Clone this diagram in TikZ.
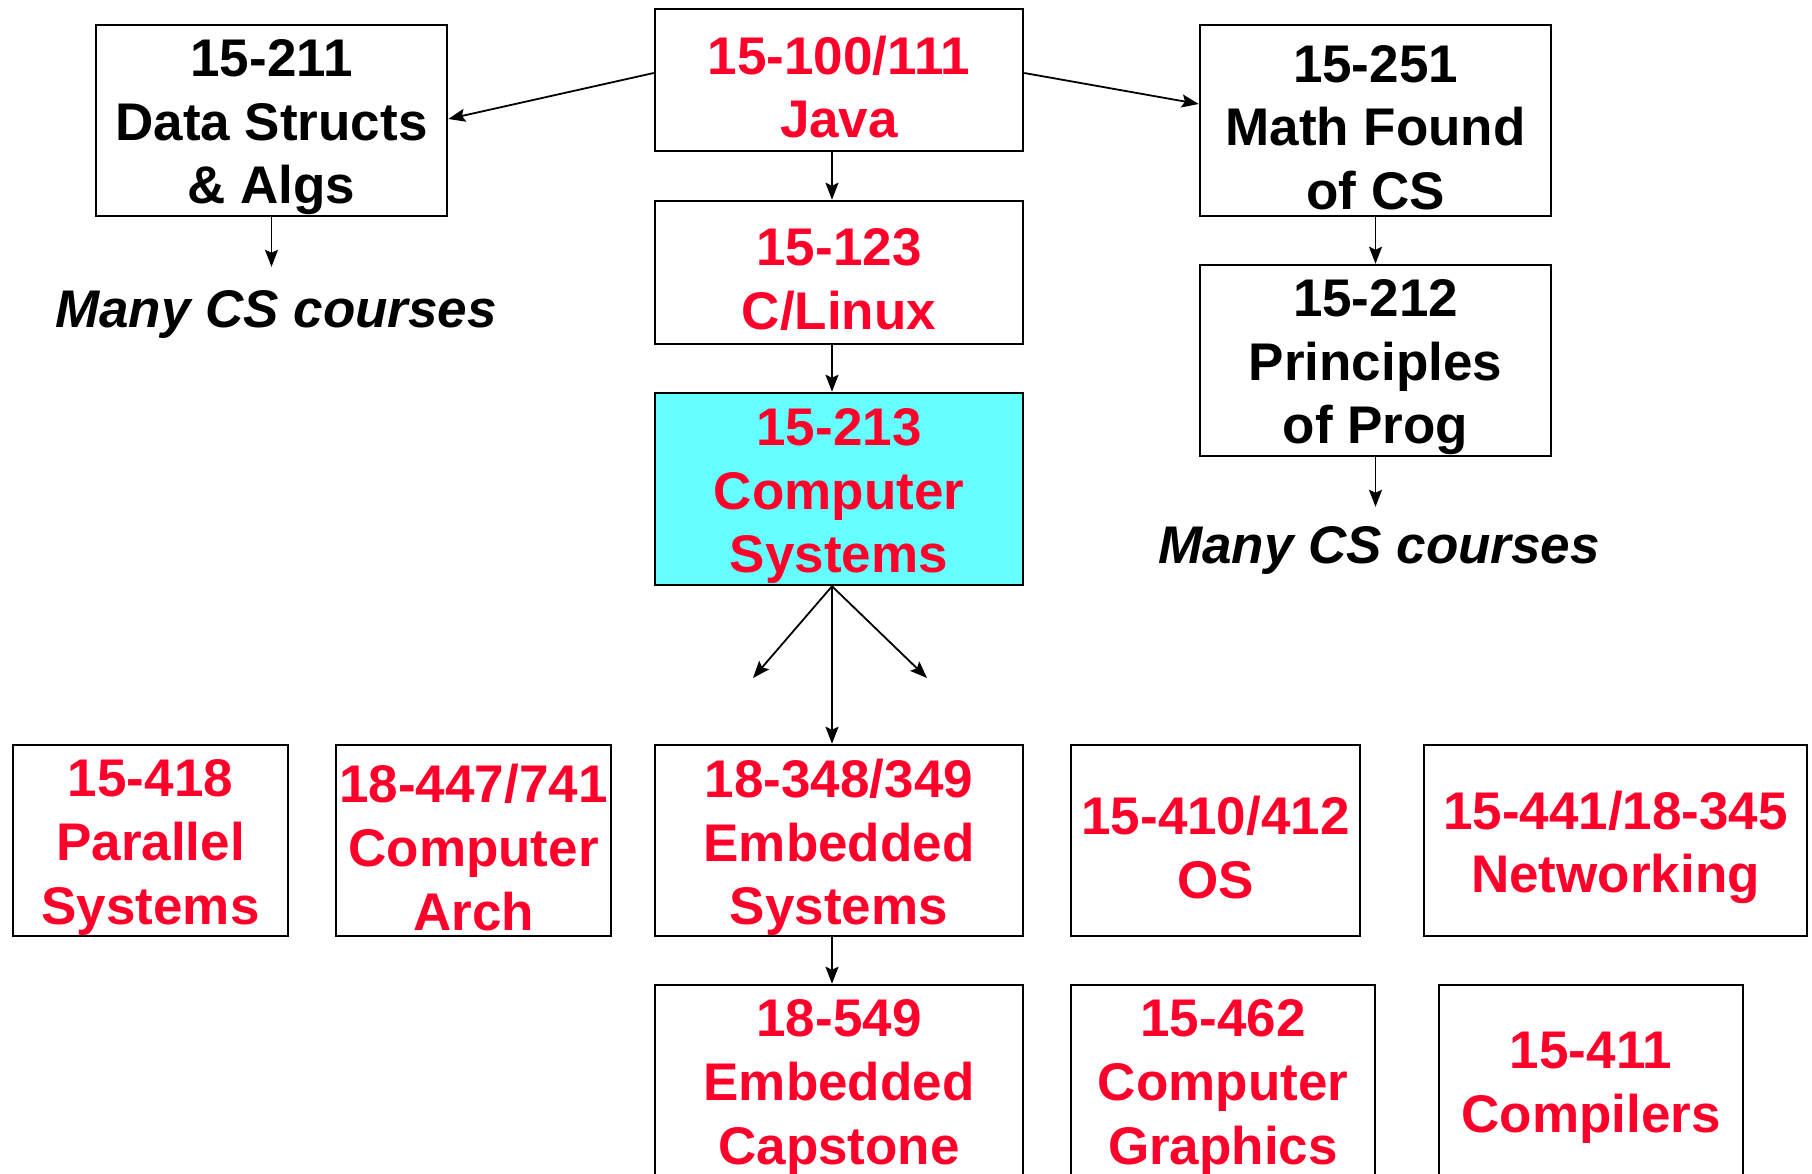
\documentclass[tikz,border=0pt]{standalone}
\usepackage{fontspec}
\setmainfont{Liberation Sans}
\usetikzlibrary{arrows.meta}
\definecolor{cred}{RGB}{255,0,43}
\definecolor{ccyan}{RGB}{102,255,255}
\newcommand{\cbox}[6]{%
  \node[box, #2, minimum width=#4, minimum height=#5] (#1) at (#3) {};
  \node[txt, #2] (#1-t) at ([yshift=-7pt]#1.center) {#6};}
\begin{document}
\begin{tikzpicture}[x=1pt,y=-1pt,
  box/.style={draw=black, line width=2.5pt, inner sep=0pt},
  txt/.style={draw=none, fill=none, align=center, inner sep=0pt,
    font=\fontsize{53}{63.6}\selectfont\bfseries},
  red/.style={text=cred},
  blk/.style={text=black},
  cy/.style={fill=ccyan},
  arr/.style={line width=1.8pt, -{Stealth[length=17pt,width=13pt,inset=3pt]}},
  lbl/.style={font=\fontsize{53}{63.6}\selectfont\bfseries\itshape, inner sep=0pt}]
\useasboundingbox (0,0) rectangle (1812,1174);
% top
\cbox{b211}{blk}{271.5,120.5}{351pt}{191pt}{15-211\\Data Structs\\\& Algs}
\cbox{b100}{red}{839,80}{368pt}{142pt}{15-100/111\\Java}
\cbox{b251}{blk}{1375.5,120.5}{351pt}{191pt}{15-251\\Math Found\\of CS}
\cbox{b123}{red}{839,272.5}{368pt}{143pt}{15-123\\C/Linux}
\cbox{b212}{blk}{1375.5,360.5}{351pt}{191pt}{15-212\\Principles\\of Prog}
\node[box, cy, minimum width=368pt, minimum height=192pt] (b213) at (839,489) {};
\node[txt, red] (b213-t) at ([yshift=-7pt]b213.center) {15-213\\Computer\\Systems};
\node[lbl] (m1) at (276,314) {Many CS courses};
\node[lbl] (m2) at (1379,550) {Many CS courses};
% bottom row
\cbox{b418}{red}{150.5,840.5}{275pt}{191pt}{15-418\\Parallel\\Systems}
\cbox{b447}{red}{473.5,840.5}{275pt}{191pt}{18-447/741\\Computer\\Arch}
\cbox{b348}{red}{839,840.5}{368pt}{191pt}{18-348/349\\Embedded\\Systems}
\cbox{b410}{red}{1215.5,840.5}{289pt}{191pt}{15-410/412\\OS}
\cbox{b441}{red}{1615.5,840.5}{383pt}{191pt}{15-441/18-345\\Networking}
% third row
\cbox{b549}{red}{839,1080.5}{368pt}{191pt}{18-549\\Embedded\\Capstone}
\cbox{b462}{red}{1223,1080.5}{304pt}{191pt}{15-462\\Computer\\Graphics}
\cbox{b411}{red}{1591,1080.5}{304pt}{191pt}{15-411\\Compilers}
% free ends
\coordinate (c1) at (753,678);
\coordinate (c2) at (927,678);
% arrows
\draw[arr] ([yshift=7pt]b100.west) -- ([yshift=1.5pt]b211.east);
\draw[arr] ([yshift=7pt]b100.east) -- ([yshift=16.5pt]b251.west);
\draw[arr] ([xshift=-7pt]b100.south) -- ([xshift=-7pt]b123.north);
\draw[arr] ([xshift=-7pt]b123.south) -- ([xshift=-7pt]b213.north);
\draw[arr] (b211.south) -- ([yshift=23pt]b211.south |- m1.north);
\draw[arr] (b251.south) -- (b212.north);
\draw[arr] (b212.south) -- ([yshift=19pt]b212.south |- m2.north);
\draw[arr] ([xshift=-7pt]b213.south) -- (c1);
\draw[arr] ([xshift=-7pt]b213.south) -- (c2);
\draw[arr] ([xshift=-7pt]b213.south) -- ([xshift=-7pt]b348.north);
\draw[arr] ([xshift=-7pt]b348.south) -- ([xshift=-7pt]b549.north);
\end{tikzpicture}
\end{document}
